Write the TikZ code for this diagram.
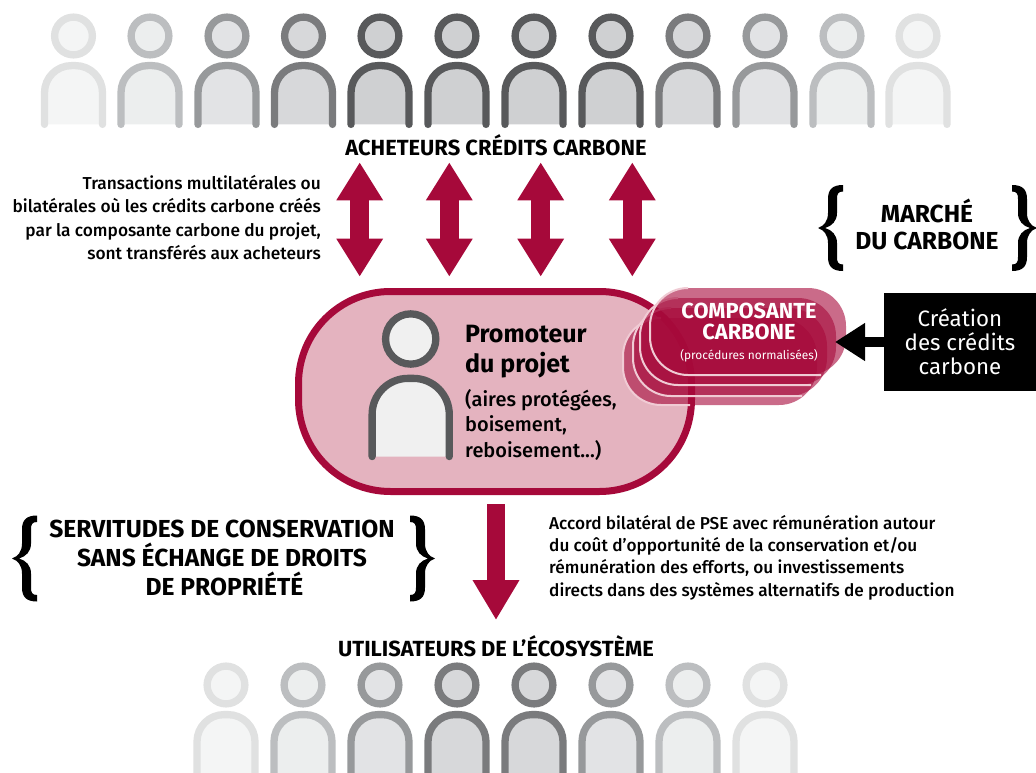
\documentclass[tikz,border=0pt]{standalone}
\usepackage{fontspec}
\setmainfont{Fira Sans}
\newfontfamily\firamed{Fira Sans Medium}
\usetikzlibrary{arrows.meta}
\definecolor{crimson}{HTML}{A6093A}
\definecolor{rosefill}{HTML}{E4B3BF}
\definecolor{palestroke}{HTML}{F0CBD4}
\definecolor{ga}{HTML}{E0E1E1}
\definecolor{gb}{HTML}{BCBEC0}
\definecolor{gc}{HTML}{97999B}
\definecolor{gd}{HTML}{7A7B7D}
\definecolor{ge}{HTML}{58595B}
\definecolor{fa}{HTML}{F4F5F5}
\definecolor{fb}{HTML}{ECEEEE}
\definecolor{fc}{HTML}{E2E3E5}
\definecolor{fd}{HTML}{D7D8DA}
\definecolor{fe}{HTML}{CFD0D2}
\tikzset{
  bigarrow/.style={line width=18.5pt,crimson},
  blacktip/.style={line width=10pt,black},
  heading/.style={font=\bfseries\fontsize{21.9}{26}\selectfont,inner sep=0pt},
  bighead/.style={font=\bfseries\fontsize{24.6}{29}\selectfont,inner sep=0pt,align=center},
  smalltext/.style={font=\firamed\fontsize{17.3}{23.3}\selectfont,inner sep=0pt},
  layer/.style={fill=crimson,fill opacity=0.6},
}

\newcommand{\person}[5]{%
\begin{scope}[shift={(#1,#2)},scale=#3,line width=7.3pt,draw=#4]
\draw[fill=#5] (0,0) circle (18.9);
\draw[fill=#5,rounded corners=27*#3,line cap=round] (-29,88.4) -- (-29,29.6) -- (29,29.6) -- (29,88.4);
\end{scope}}

\newcommand{\curlybrace}[3]{%
\fill[black,shift={(#1,#2)},xscale=#3] (25,0) -- (25,6.5) .. controls (20,6.5) and (19,9) .. (19,14) -- (19,28) .. controls (19,36) and (14,41) .. (7,43) .. controls (14,45) and (19,50) .. (19,58) -- (19,72) .. controls (19,77) and (20,79.5) .. (25,79.5) -- (25,86) .. controls (15,86) and (10,82) .. (10,72) -- (10,58) .. controls (10,50) and (6,45) .. (0,43) .. controls (6,41) and (10,36) .. (10,28) -- (10,14) .. controls (10,4) and (15,0) .. (25,0) -- cycle;}

\begin{document}
\begin{tikzpicture}[x=1pt,y=-1pt]
\clip (0,0) rectangle (1036,773);
\useasboundingbox (0,0) rectangle (1036,773);

\foreach \x/\l/\f in {73.5/ga/fa,150/gb/fb,227/gc/fc,303.5/gd/fd,380/ge/fe,457/ge/fe,534/ge/fe,611/ge/fe,688/gd/fd,765/gc/fc,842/gb/fb,918/ga/fa}
  \person{\x}{36}{1}{\l}{\f};
\foreach \x/\l/\f in {226/ga/fa,303/gb/fb,380/gc/fc,457/gd/fd,534/gd/fd,611/gc/fc,688/gb/fb,765/ga/fa}
  \person{\x}{685}{1}{\l}{\f};

\node (ach) at (496,145) [heading] {ACHETEURS CRÉDITS CARBONE};
\node (uti) at (496,646) [heading] {UTILISATEURS DE L’ÉCOSYSTÈME};

\node (pro) at (495,391.5) [draw=crimson,fill=rosefill,line width=7pt,rounded corners=92pt,minimum width=393pt,minimum height=200pt] {};
\person{410.7}{339}{1.33}{ge}{white!94!black};
\node (nom) at (465,351.5) [anchor=west,inner sep=0pt,align=left,font=\bfseries\fontsize{25}{30}\selectfont] {Promoteur\\du projet};
\node (typ) at (465,424.5) [anchor=west,inner sep=0pt,align=left,font=\firamed\fontsize{20}{25.5}\selectfont] {(aires protégées,\\boisement,\\reboisement...)};

\foreach \l/\r/\t/\b/\e in {623/817/318/405/690,633/827/308/396/802,640/836/298/385/811,650/846/288/375/821} {
  \fill[layer,rounded corners=38pt] (\l,\t) rectangle (\r,\b);
  \draw[palestroke,line width=2pt,rounded corners=38pt] (\l+34,\t) -- (\l,\t) -- (\l,\b) -- (\e,\b);
}
\node (com) at (749,332.5) [text=white,inner sep=0pt,align=center,font=\bfseries\fontsize{21.8}{21.5}\selectfont] {COMPOSANTE\\CARBONE\\[-1.5pt]{\normalfont\fontsize{11.9}{15}\selectfont (procédures normalisées)}};

\node (cre) at (960,342) [fill=black,text=white,inner sep=0pt,minimum width=152pt,minimum height=98pt,align=center,font=\fontsize{22.3}{24}\selectfont] {Création\\des crédits\\carbone};
\coordinate (tip) at (835,342);
\draw[blacktip,-{Triangle[width=36pt,length=30pt]}] (cre) -- (tip);

\foreach \x [count=\i] in {359.7,449.3,540.7,632.3} {
  \coordinate (t\i) at (\x,162.3);
  \coordinate (b\i) at (\x,276.7);
  \draw[bigarrow,{Triangle[width=44pt,length=38pt]}-{Triangle[width=44pt,length=38pt]}] (t\i) -- (b\i);
}
\coordinate (s) at (496,504);
\coordinate (e) at (496,620);
\draw[bigarrow,-{Triangle[width=44pt,length=40pt]}] (s) -- (e);

\node (tra) at (321,217.5) [anchor=east,align=right,smalltext] {Transactions multilatérales ou\\bilatérales où les crédits carbone créés\\par la composante carbone du projet,\\sont transférés aux acheteurs};
\node (acc) at (549,557.5) [anchor=west,align=left,smalltext,font=\firamed\fontsize{17.2}{22.4}\selectfont] {Accord bilatéral de PSE avec rémunération autour\\du coût d’opportunité de la conservation et/ou\\rémunération des efforts, ou investissements\\directs dans des systèmes alternatifs de production};

\node (mar) at (927,224) [bighead,font=\bfseries\fontsize{24.6}{27}\selectfont] {MARCHÉ\\DU CARBONE};
\node (ser) at (222,558) [bighead] {SERVITUDES DE CONSERVATION\\SANS ÉCHANGE DE DROITS\\\hspace*{5pt}DE PROPRIÉTÉ};

\curlybrace{818}{185}{1}
\curlybrace{1037}{185}{-1}
\curlybrace{12}{515.5}{1}
\curlybrace{435}{515.5}{-1}
\end{tikzpicture}
\end{document}
